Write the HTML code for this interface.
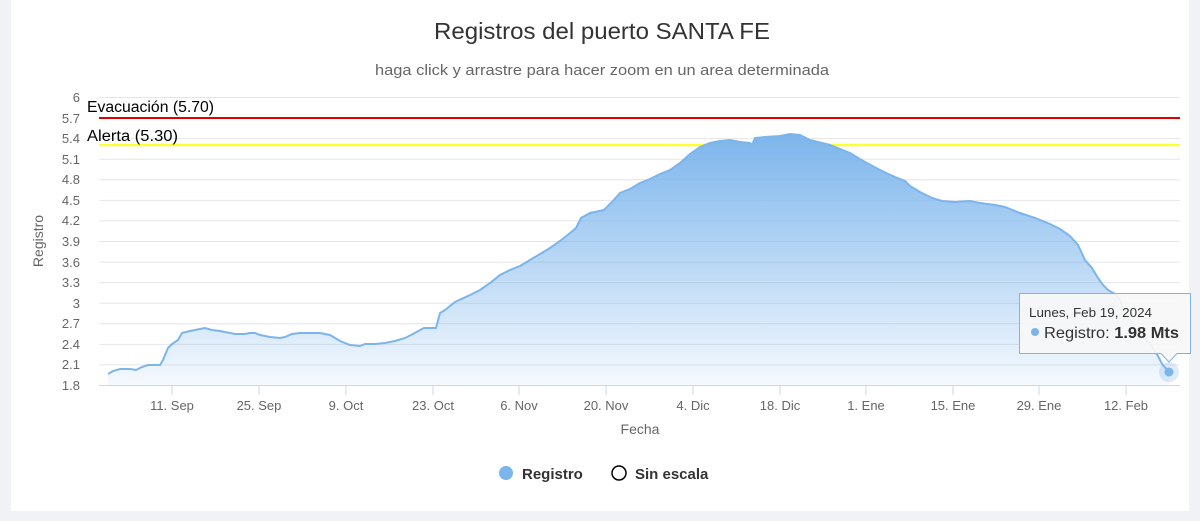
<!DOCTYPE html>
<html><head><meta charset="utf-8"><style>
body{margin:0;background:#f0f2f5;}
svg{display:block;font-family:"Liberation Sans","DejaVu Sans",sans-serif;}
</style></head><body>
<svg width="1200" height="521" xmlns="http://www.w3.org/2000/svg">
<defs><linearGradient id="g" x1="0" y1="0" x2="0" y2="1"><stop offset="0" stop-color="#7cb5ec" stop-opacity="1"/><stop offset="1" stop-color="#7cb5ec" stop-opacity="0.08"/></linearGradient></defs>
<rect x="0" y="0" width="1200" height="521" fill="#f0f2f5"/>
<rect x="11" y="0" width="1178" height="511" fill="#fff"/>
<text x="434" y="39" font-size="23" fill="#333" textLength="336" lengthAdjust="spacingAndGlyphs">Registros del puerto SANTA FE</text>
<text x="375" y="75" font-size="15" fill="#666" textLength="454" lengthAdjust="spacingAndGlyphs">haga click y arrastre para hacer zoom en un area determinada</text>
<g stroke="#e6e6e6" stroke-width="1">
<line x1="99" x2="1180" y1="97.5" y2="97.5"/><line x1="99" x2="1180" y1="118" y2="118"/><line x1="99" x2="1180" y1="138.6" y2="138.6"/><line x1="99" x2="1180" y1="159.2" y2="159.2"/><line x1="99" x2="1180" y1="179.8" y2="179.8"/><line x1="99" x2="1180" y1="200.4" y2="200.4"/><line x1="99" x2="1180" y1="220.9" y2="220.9"/><line x1="99" x2="1180" y1="241.5" y2="241.5"/><line x1="99" x2="1180" y1="262.1" y2="262.1"/><line x1="99" x2="1180" y1="282.6" y2="282.6"/><line x1="99" x2="1180" y1="303.2" y2="303.2"/><line x1="99" x2="1180" y1="323.8" y2="323.8"/><line x1="99" x2="1180" y1="344.4" y2="344.4"/><line x1="99" x2="1180" y1="364.9" y2="364.9"/>
</g>
<line x1="99" x2="1180" y1="385.5" y2="385.5" stroke="#ccd6eb"/>
<g stroke="#ccd6eb"><line x1="172" x2="172" y1="385" y2="395"/><line x1="259" x2="259" y1="385" y2="395"/><line x1="346" x2="346" y1="385" y2="395"/><line x1="433" x2="433" y1="385" y2="395"/><line x1="519" x2="519" y1="385" y2="395"/><line x1="606" x2="606" y1="385" y2="395"/><line x1="693" x2="693" y1="385" y2="395"/><line x1="780" x2="780" y1="385" y2="395"/><line x1="866" x2="866" y1="385" y2="395"/><line x1="953" x2="953" y1="385" y2="395"/><line x1="1039" x2="1039" y1="385" y2="395"/><line x1="1126" x2="1126" y1="385" y2="395"/></g>
<g font-size="13" fill="#666" text-anchor="end">
<text x="80" y="102">6</text><text x="80" y="123">5.7</text><text x="80" y="143">5.4</text><text x="80" y="164">5.1</text><text x="80" y="184">4.8</text><text x="80" y="205">4.5</text><text x="80" y="225">4.2</text><text x="80" y="246">3.9</text><text x="80" y="267">3.6</text><text x="80" y="287">3.3</text><text x="80" y="308">3</text><text x="80" y="328">2.7</text><text x="80" y="349">2.4</text><text x="80" y="369">2.1</text><text x="80" y="390">1.8</text>
</g>
<g font-size="13" fill="#666" text-anchor="middle">
<text x="172" y="410">11. Sep</text><text x="259" y="410">25. Sep</text><text x="346" y="410">9. Oct</text><text x="433" y="410">23. Oct</text><text x="519" y="410">6. Nov</text><text x="606" y="410">20. Nov</text><text x="693" y="410">4. Dic</text><text x="780" y="410">18. Dic</text><text x="866" y="410">1. Ene</text><text x="953" y="410">15. Ene</text><text x="1039" y="410">29. Ene</text><text x="1126" y="410">12. Feb</text>
</g>
<text x="640" y="434" text-anchor="middle" font-size="14" fill="#666">Fecha</text>
<text transform="translate(43,241) rotate(-90)" text-anchor="middle" font-size="14" fill="#666">Registro</text>
<line x1="99" x2="1180" y1="118" y2="118" stroke="#e00000" stroke-width="2"/>
<line x1="99" x2="1180" y1="145" y2="145" stroke="#ffff33" stroke-width="2.5"/>
<text x="87" y="112" font-size="15.5" fill="#000" textLength="127" lengthAdjust="spacingAndGlyphs">Evacuación (5.70)</text>
<text x="87" y="141" font-size="15.5" fill="#000" textLength="91" lengthAdjust="spacingAndGlyphs">Alerta (5.30)</text>
<path id="d" d="M108,374 L113,371 L120,369 L130,369 L136,370 L142,367 L148,365 L160,365 L163,360 L168,348 L172,344 L178,340 L182,333 L190,331 L200,329 L205,328 L212,330 L220,331 L230,333 L235,334 L245,334 L250,333 L255,333 L260,335 L270,337 L280,338 L285,337 L292,334 L300,333 L320,333 L330,335 L340,341 L350,345 L360,346 L365,344 L375,344 L385,343 L395,341 L405,338 L413,334 L420,330 L424,328 L436,328 L440,313 L445,310 L455,302 L470,295 L480,290 L490,283 L500,275 L510,270 L520,266 L530,260 L540,254 L550,248 L560,241 L570,233 L576,228 L581,218 L590,213 L604,210 L612,202 L620,193 L630,189 L640,183 L650,179 L660,174 L670,170 L680,163 L690,154 L700,147 L710,143 L720,141 L730,140 L740,142 L750,143 L752,145 L755,138 L765,137 L780,136 L790,134 L800,135 L810,140 L830,145 L850,153 L865,162 L880,170 L895,177 L905,181 L910,186 L920,192 L932,198 L942,201 L955,202 L970,201 L980,203 L995,205 L1005,207 L1020,213 L1035,218 L1050,224 L1060,229 L1070,236 L1078,245 L1085,260 L1092,268 L1098,278 L1103,285 L1108,290 L1115,294 L1120,300 L1127,315 L1135,328 L1145,338 L1152,347 L1158,356 L1162,364 L1169,372" fill="none"/>
<path d="M108,374 L113,371 L120,369 L130,369 L136,370 L142,367 L148,365 L160,365 L163,360 L168,348 L172,344 L178,340 L182,333 L190,331 L200,329 L205,328 L212,330 L220,331 L230,333 L235,334 L245,334 L250,333 L255,333 L260,335 L270,337 L280,338 L285,337 L292,334 L300,333 L320,333 L330,335 L340,341 L350,345 L360,346 L365,344 L375,344 L385,343 L395,341 L405,338 L413,334 L420,330 L424,328 L436,328 L440,313 L445,310 L455,302 L470,295 L480,290 L490,283 L500,275 L510,270 L520,266 L530,260 L540,254 L550,248 L560,241 L570,233 L576,228 L581,218 L590,213 L604,210 L612,202 L620,193 L630,189 L640,183 L650,179 L660,174 L670,170 L680,163 L690,154 L700,147 L710,143 L720,141 L730,140 L740,142 L750,143 L752,145 L755,138 L765,137 L780,136 L790,134 L800,135 L810,140 L830,145 L850,153 L865,162 L880,170 L895,177 L905,181 L910,186 L920,192 L932,198 L942,201 L955,202 L970,201 L980,203 L995,205 L1005,207 L1020,213 L1035,218 L1050,224 L1060,229 L1070,236 L1078,245 L1085,260 L1092,268 L1098,278 L1103,285 L1108,290 L1115,294 L1120,300 L1127,315 L1135,328 L1145,338 L1152,347 L1158,356 L1162,364 L1169,372 L1169,385 L108,385 Z" fill="url(#g)"/>
<use href="#d" stroke="#7cb5ec" stroke-width="2"/>
<circle cx="1169" cy="372" r="10" fill="#7cb5ec" opacity="0.25"/>
<circle cx="1169" cy="372" r="4.5" fill="#7cb5ec"/>
<path d="M1019.5,293.5 H1190.5 V353.5 H1177 L1169,362 L1161,353.5 H1019.5 Z" fill="#f7f7f7" fill-opacity="0.92" stroke="#7cb5ec" stroke-width="1"/>
<text x="1029" y="317" font-size="13" fill="#333" textLength="123" lengthAdjust="spacingAndGlyphs">Lunes, Feb 19, 2024</text>
<circle cx="1035" cy="332" r="4" fill="#7cb5ec"/>
<text x="1044" y="338" font-size="16" fill="#333" textLength="135" lengthAdjust="spacingAndGlyphs">Registro: <tspan font-weight="bold">1.98 Mts</tspan></text>
<circle cx="506" cy="473" r="7" fill="#7cb5ec"/>
<text x="522" y="479" font-size="15" fill="#333" font-weight="bold">Registro</text>
<circle cx="619" cy="473" r="7" fill="none" stroke="#000" stroke-width="1.5"/>
<text x="635" y="479" font-size="15" fill="#333" font-weight="bold">Sin escala</text>
</svg>
</body></html>
